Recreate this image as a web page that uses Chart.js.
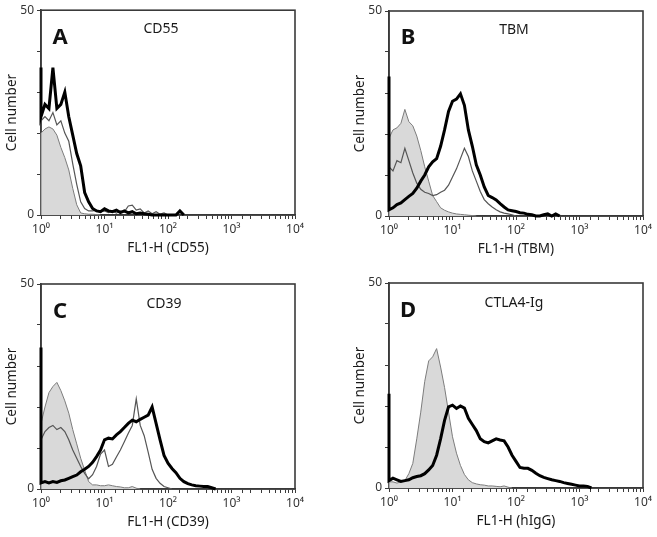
<!DOCTYPE html>
<html><head><meta charset="utf-8">
<script src="https://cdn.jsdelivr.net/npm/chart.js@4.4.1/dist/chart.umd.min.js"></script>
<style>
html,body{margin:0;padding:0;background:#fff;}
body{width:657px;height:537px;overflow:hidden;position:relative;font-family:'Noto Sans',sans-serif;color:#1a1a1a;}
canvas{position:absolute;}
.t{position:absolute;transform:translate(-50%,-50%);line-height:1;white-space:nowrap;font-size:14px;}
.L{position:absolute;transform:translate(-50%,-50%);line-height:1;font-weight:bold;font-size:22px;color:#111;}
</style></head><body>
<canvas id="cA" width="309" height="268" style="left:0;top:0"></canvas>
<canvas id="cB" width="309" height="268" style="left:348px;top:0"></canvas>
<canvas id="cC" width="309" height="267" style="left:0;top:270px"></canvas>
<canvas id="cD" width="309" height="267" style="left:348px;top:270px"></canvas>
<div class="L" style="left:60px;top:35px">A</div><div class="t" style="left:161px;top:28px">CD55</div>
<div class="L" style="left:408px;top:35px">B</div><div class="t" style="left:514px;top:29px">TBM</div>
<div class="L" style="left:60px;top:309px">C</div><div class="t" style="left:164px;top:303px">CD39</div>
<div class="L" style="left:408px;top:308px">D</div><div class="t" style="left:514px;top:302px">CTLA4-Ig</div>
<script>
// Fluorescence channel positions (log scale, 16 bins per decade); first entry repeats 10^0 for the on-axis pile-up bin
const channels = [1, 1, 1.155, 1.334, 1.540, 1.778, 2.054, 2.371, 2.738, 3.162, 3.652, 4.217, 4.870, 5.623, 6.494, 7.499, 8.660,
  10, 11.55, 13.34, 15.40, 17.78, 20.54, 23.71, 27.38, 31.62, 36.52, 42.17, 48.70, 56.23, 64.94, 74.99, 86.60,
  100, 115.5, 133.4, 154.0, 177.8, 205.4, 237.1, 273.8, 316.2, 365.2, 421.7, 487.0, 562.3, 649.4, 749.9, 866.0,
  1000, 1155, 1334, 1540, 1778, 2054, 2371, 2738, 3162, 3652, 4217, 4870, 5623, 6494, 7499, 8660, 10000];
const xTickLabels = ['10\u2070', '10\u00B9', '10\u00B2', '10\u00B3', '10\u2074'];
const yTickLabels = ['0', '50'];

// Panel A - CD55
const cd55Stained = [36, 24, 27, 26, 36, 26, 27, 30, 24, 19.5, 15, 12, 5.5, 3.2, 1.6, 1, 0.8, 1.5, 1, 0.8, 1.2, 0.6, 1, 0.5, 0.8, 0.3, 0.5, 0.3, 0.2, 0, 0, 0, 0, 0, 0, 0, 1, 0];
const cd55Thin = [23, 23, 24, 23, 25, 22, 23, 20, 18, 12.5, 7.5, 3.2, 1.6, 1, 1, 1.2, 0.8, 1, 0.6, 1, 0.5, 1, 0.8, 2.2, 2.4, 1.2, 1.5, 0.5, 1, 0.3, 0.8, 0.2, 0.5, 0];
const cd55Isotype = [0, 20, 21, 21.5, 21, 19.5, 16.5, 14, 11, 6.5, 2.5, 0.5, 0.3, 0.2, 0.2, 0.1, 0];

// Panel B - TBM
const tbmStained = [34, 1.5, 2, 2.8, 3.2, 4, 4.8, 5.5, 6.8, 8.5, 10, 12, 13.2, 14, 17, 21, 25.5, 28, 28.5, 29.8, 27, 21, 17, 12.5, 10, 7.1, 5, 4.5, 3.9, 3, 2.2, 1.5, 1.3, 1.1, 0.8, 0.7, 0.4, 0.3, 0, 0, 0.3, 0.5, 0, 0.5, 0];
const tbmThin = [12, 12, 11, 13.5, 13, 16.5, 13.5, 10.5, 8, 6.5, 5.8, 5.5, 5, 5.2, 5.8, 6.3, 7.5, 9.5, 11.5, 14, 16.5, 14.5, 11, 8.5, 6, 4, 3, 2.2, 1.5, 1, 0.7, 0.5, 0.3, 0];
const tbmIsotype = [0, 19, 21, 21.5, 22.6, 26, 23, 22, 19.5, 16, 12, 8.5, 5, 3.5, 2, 1.4, 1, 0.7, 0.5, 0.4, 0.3, 0.2, 0.1, 0];

// Panel C - CD39
const cd39Stained = [34.5, 1.5, 1.8, 1.5, 1.8, 1.6, 2, 2.2, 2.6, 3, 3.4, 4.2, 4.8, 5.5, 6.5, 7.9, 9.5, 12, 12.4, 12.2, 13.2, 14, 15, 16, 16.8, 16.4, 17, 17.5, 18, 20, 16, 12, 8.2, 6.3, 5, 4, 2.6, 1.8, 1.3, 1, 0.8, 0.7, 0.6, 0.6, 0.3, 0];
const cd39Thin = [12, 12, 14, 15, 15.5, 14.5, 15, 14, 12, 9.5, 7.5, 5.5, 3.8, 2.5, 3.5, 5.5, 8.5, 9.5, 5.5, 6, 7.8, 9.5, 11.5, 13.6, 15.5, 22, 15.5, 13, 9, 4.8, 2.6, 1.4, 0.6, 0.3, 0];
const cd39Isotype = [0, 16, 20, 23.5, 25, 26, 24, 21.5, 18.5, 14.5, 11, 7.5, 4.6, 1.8, 1, 1, 0.8, 0.8, 1, 0.8, 0.6, 0.5, 0.3, 0.3, 0.6, 0.2, 0];

// Panel D - CTLA4-Ig
const ctla4Stained = [23, 1.8, 2.4, 2, 1.6, 1.8, 2, 2.5, 2.8, 3, 3.5, 4.4, 5.5, 8, 12, 16.5, 19.8, 20.2, 19.4, 20, 19.5, 17, 15.5, 14, 12, 11.3, 11, 11.5, 12, 11.7, 11.5, 10, 8, 6.5, 5, 4.8, 4.8, 4.3, 3.6, 3, 2.6, 2.3, 2, 1.8, 1.6, 1.3, 1.1, 0.9, 0.7, 0.5, 0.5, 0.4, 0];
const ctla4Isotype = [0, 1.5, 1.5, 1.2, 1.5, 1.8, 3.5, 6, 12, 18.5, 26, 31, 32, 34, 29.5, 24.5, 18.5, 12.5, 8.5, 5.5, 3.3, 2, 1.3, 1, 0.8, 0.7, 0.5, 0.5, 0.4, 0.3, 0.5, 0.2, 0];

const frame = {
  id: 'frame',
  beforeDatasetsDraw(chart) {
    const {ctx, chartArea: a} = chart;
    ctx.save();
    ctx.strokeStyle = '#3a3a3a';
    ctx.lineWidth = 1.6;
    ctx.strokeRect(a.left, a.top, a.right - a.left, a.bottom - a.top);
    ctx.restore();
  }
};

function toPoints(vals) { return vals.map((v, k) => ({x: channels[k], y: v})); }

function makePanel(id, pad, xTitle, thick, thin, iso) {
  const ds = [];
  ds.push({data: toPoints(thick), borderColor: '#000', borderWidth: 3, fill: false});
  if (thin) ds.push({data: toPoints(thin), borderColor: '#555', borderWidth: 1.2, fill: false});
  ds.push({data: toPoints(iso), borderColor: '#7c7c7c', borderWidth: 1, fill: 'origin', backgroundColor: '#d9d9d9'});
  ds.forEach(d => { d.pointRadius = 0; d.tension = 0; d.clip = 3; });
  new Chart(document.getElementById(id), {
    type: 'line',
    data: {datasets: ds},
    options: {
      responsive: false, animation: false, devicePixelRatio: 1,
      layout: {padding: pad},
      plugins: {legend: {display: false}, tooltip: {enabled: false}},
      scales: {
        x: {
          type: 'logarithmic', min: 1, max: 10000, position: 'bottom',
          grid: {drawOnChartArea: false, drawTicks: true, tickLength: 4, color: '#3a3a3a'},
          border: {display: true, color: '#3a3a3a', width: 1.6},
          ticks: {autoSkip: false, maxRotation: 0, padding: 3, color: '#333',
            font: {family: 'Noto Sans', size: 12},
            callback: (v) => { const e = Math.round(Math.log10(v)); return Math.abs(Math.pow(10, e) - v) < 1e-6 ? xTickLabels[e] : ''; }},
          title: {display: true, text: xTitle, color: '#1a1a1a', font: {family: 'Noto Sans', size: 13.5}, padding: {top: 0, bottom: 4}},
          afterFit: (s) => { s.height = 45; s.paddingLeft = 0; s.paddingRight = 0; }
        },
        y: {
          min: 0, max: 50,
          grid: {drawOnChartArea: false, drawTicks: true, tickLength: 4, color: '#3a3a3a'},
          border: {display: true, color: '#3a3a3a', width: 1.6},
          ticks: {stepSize: 10, padding: 3, color: '#333', font: {family: 'Noto Sans', size: 12},
            callback: (v) => v === 0 ? yTickLabels[0] : (v === 50 ? yTickLabels[1] : '')},
          title: {display: true, text: 'Cell number', color: '#1a1a1a', font: {family: 'Noto Sans', size: 13.5}, padding: {top: 4, bottom: 0}},
          afterFit: (s) => { s.width = 41; }
        }
      }
    },
    plugins: [frame]
  });
}

makePanel('cA', {left: 0, top: 10, right: 14, bottom: 8}, 'FL1-H (CD55)', cd55Stained, cd55Thin, cd55Isotype);
makePanel('cB', {left: 0, top: 11, right: 14, bottom: 7}, 'FL1-H (TBM)', tbmStained, tbmThin, tbmIsotype);
makePanel('cC', {left: 0, top: 14, right: 14, bottom: 3}, 'FL1-H (CD39)', cd39Stained, cd39Thin, cd39Isotype);
makePanel('cD', {left: 0, top: 13, right: 14, bottom: 4}, 'FL1-H (hIgG)', ctla4Stained, null, ctla4Isotype);
</script>
</body></html>
